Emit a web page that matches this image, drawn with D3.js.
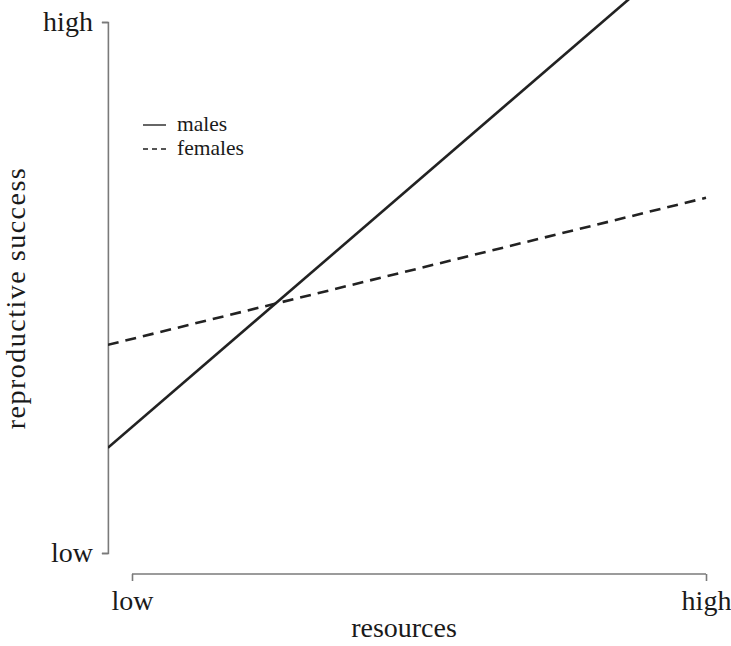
<!DOCTYPE html>
<html><head><meta charset="utf-8">
<script src="https://cdn.jsdelivr.net/npm/d3@7"></script>
<style>body{margin:0;background:#fff}svg{display:block}text{font-family:"Liberation Serif","Times New Roman",serif;fill:#1a1a1a}</style>
</head><body>
<script>
const xTickLabels = ["low", "high"];
const yTickLabels = ["low", "high"];
const xTickValues = [0, 1];
const yTickValues = [0, 1];
const seriesNames = ["males", "females"];
// points (x, y) in data units; lines run from the left edge of the plot region
const malesX = [-0.042, 1];
const malesY = [0.198, 1.168];
const femalesX = [-0.042, 1];
const femalesY = [0.392, 0.669];

const W = 731, H = 646;
const svg = d3.select("body").append("svg").attr("width", W).attr("height", H);
const x = d3.scaleLinear().domain([0, 1]).range([132, 706]);
const y = d3.scaleLinear().domain([0, 1]).range([553, 22]);
const axisColor = "#7a7a7a";

svg.append("defs").append("clipPath").attr("id", "clip")
  .append("rect").attr("x", x(-0.042)).attr("y", 0).attr("width", 706 - x(-0.042) + 2).attr("height", 560);

// y axis
const yAxis = svg.append("g").attr("transform", `translate(${x(-0.042)},0)`)
  .call(d3.axisLeft(y).tickValues(yTickValues).tickFormat((d, i) => yTickLabels[i]).tickSize(6).tickPadding(9));
// x axis
const xAxis = svg.append("g").attr("transform", `translate(0,574)`)
  .call(d3.axisBottom(x).tickValues(xTickValues).tickFormat((d, i) => xTickLabels[i]).tickSize(7).tickPadding(14));
[yAxis, xAxis].forEach(a => {
  a.select(".domain").attr("stroke", axisColor).attr("stroke-width", 1.6);
  a.selectAll(".tick line").attr("stroke", axisColor).attr("stroke-width", 1.6);
  a.selectAll("text").style("font-family", '"Liberation Serif", serif').style("font-size", "28px").attr("fill", "#1a1a1a");
});
xAxis.select(".domain").attr("d", `M${x(0)},0H${x(1)}`);
xAxis.selectAll(".tick text").attr("y", 16).attr("dy", "0.71em");
yAxis.selectAll(".tick text").attr("dy", "0.32em");

// lines
const line = d3.line().x(d => x(d[0])).y(d => y(d[1]));
const g = svg.append("g").attr("clip-path", "url(#clip)");
g.append("path").datum(d3.zip(malesX, malesY)).attr("d", line)
  .attr("fill", "none").attr("stroke", "#222").attr("stroke-width", 2.6);
g.append("path").datum(d3.zip(femalesX, femalesY)).attr("d", line)
  .attr("fill", "none").attr("stroke", "#222").attr("stroke-width", 2.6).attr("stroke-dasharray", "11,7");

// legend
const leg = svg.append("g");
const dashes = [null, "5,4"];
seriesNames.forEach((n, i) => {
  const ly = 125 + i * 24;
  leg.append("line").attr("x1", 143).attr("x2", 166).attr("y1", ly).attr("y2", ly)
    .attr("stroke", "#555").attr("stroke-width", 1.8).attr("stroke-dasharray", dashes[i]);
  leg.append("text").attr("x", 177).attr("y", ly).attr("dy", "0.3em").style("font-size", "21.5px").text(n);
});

// axis titles
svg.append("text").attr("x", 404).attr("y", 637).attr("text-anchor", "middle").style("font-size", "28px").text("resources");
svg.append("text").attr("transform", "translate(25,298) rotate(-90)").attr("text-anchor", "middle")
  .style("font-size", "28px").style("letter-spacing", "1.5px").text("reproductive success");
</script>
</body></html>
